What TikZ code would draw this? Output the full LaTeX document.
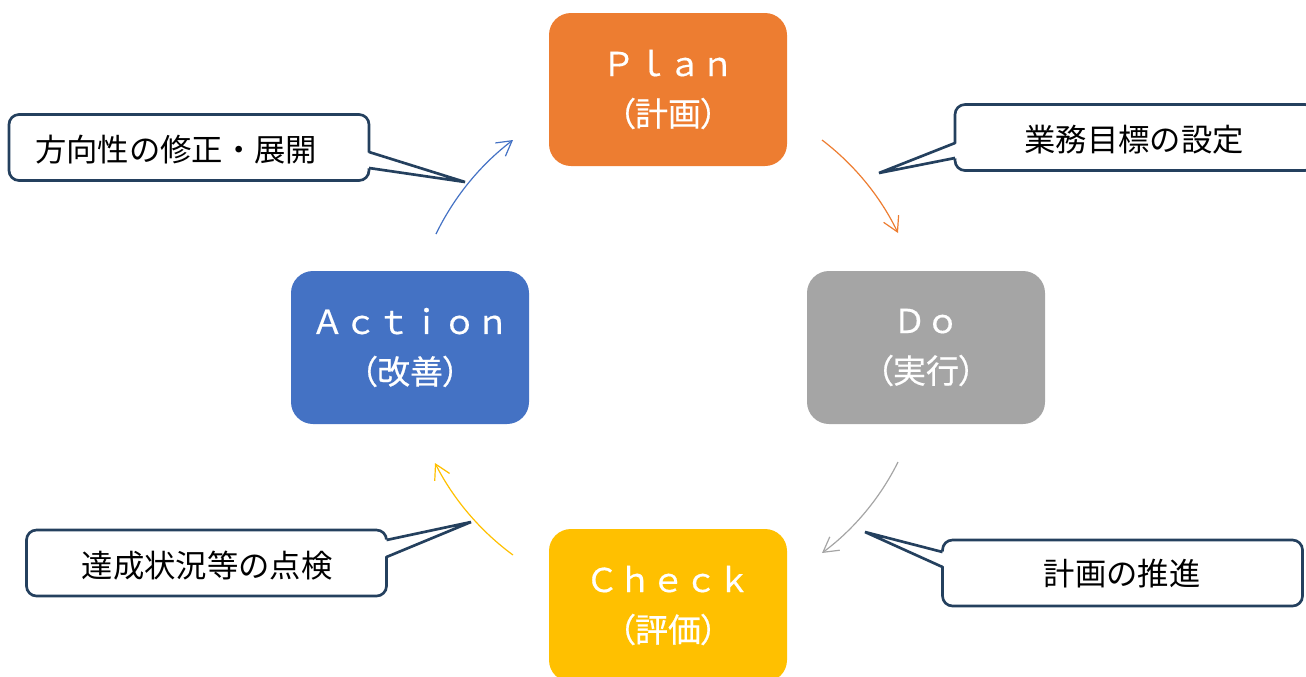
\documentclass[tikz,border=0pt]{standalone}
\usepackage{fontspec}
\newfontfamily\jp{Noto Sans CJK JP}
\newfontfamily\boxjp[FakeBold=0.5]{Noto Sans CJK JP}
\newfontfamily\boxjpp[FakeBold=0.5,RawFeature=+palt]{Noto Sans CJK JP}
\usetikzlibrary{arrows.meta,calc}

\definecolor{planc}{HTML}{ED7D31}
\definecolor{doc}{HTML}{A5A5A5}
\definecolor{checkc}{HTML}{FFC000}
\definecolor{actc}{HTML}{4472C4}
\definecolor{navy}{HTML}{24405E}

\begin{document}
\begin{tikzpicture}[x=0.75pt,y=-0.75pt,
  phase/.style={rounded corners=16.5pt, minimum width=178.5pt, minimum height=114.75pt,
    inner sep=0pt, text=white, align=center,
    font=\boxjp\fontsize{24.75}{37.5}\selectfont},
  callout/.style={draw=navy, line width=2pt, fill=white, rounded corners=7.5pt,
    minimum width=270pt, minimum height=49.5pt, inner sep=0pt},
  calltext/.style={inner sep=0pt, text=black, font=\jp\fontsize{23.5}{28}\selectfont},
  wedge/.style={draw=navy, line width=2pt, line join=miter},
  cyc/.style={line width=0.9pt, -{Straight Barb[length=11pt,width=12.5pt]}},
]
\useasboundingbox (0,0) rectangle (1306,676);

% the four PDCA phases
\node[phase, fill=planc]  (plan)   at (668,89.5)  {Ｐｌａｎ\\{\boxjpp （計画）}};
\node[phase, fill=doc]    (do)     at (926,347.5) {Ｄｏ\\{\boxjpp （実行）}};
\node[phase, fill=checkc] (check)  at (668,605.5) {Ｃｈｅｃｋ\\{\boxjpp （評価）}};
\node[phase, fill=actc]   (action) at (410,347.5) {Ａｃｔｉｏｎ\\{\boxjpp （改善）}};

% cycle arrows, bulging outwards
\coordinate (o1) at (822,140); \coordinate (o2) at (898,233);
\coordinate (g1) at (898,462); \coordinate (g2) at (822,553);
\coordinate (y1) at (513,555); \coordinate (y2) at (435,463);
\coordinate (b1) at (436,234); \coordinate (b2) at (513,140);
\draw[cyc, planc]  (o1) to[bend left=13.5, looseness=0.86] (o2);
\draw[cyc, doc]    (g1) to[bend left=13.5, looseness=0.86] (g2);
\draw[cyc, checkc] (y1) to[bend left=13.5, looseness=0.86] (y2);
\draw[cyc, actc]   (b1) to[bend left=13.5, looseness=0.86] (b2);

% callout: direction of the revision
\node[callout] (c1) at (189,147.5) {};
\coordinate (c1a) at (369,152); \coordinate (c1b) at (369,168); \coordinate (c1t) at (465,182);
\fill[white] ($(c1a)+(-3,0)$) -- (c1t) -- ($(c1b)+(-3,0)$) -- cycle;
\draw[wedge] (c1a) -- (c1t) -- (c1b);
\node[calltext] (t1) at (176,150) {方向性の修正・展開};

% callout: business goals
\node[callout] (c2) at (1135,137.5) {};
\coordinate (c2a) at (955,143); \coordinate (c2b) at (955,158); \coordinate (c2t) at (879,173);
\fill[white] ($(c2a)+(3,0)$) -- (c2t) -- ($(c2b)+(3,0)$) -- cycle;
\draw[wedge] (c2a) -- (c2t) -- (c2b);
\node[calltext] (t2) at (1134,140) {業務目標の設定};

% callout: inspection of the results
\node[callout] (c3) at (206.5,563) {};
\coordinate (c3a) at (386.5,540); \coordinate (c3b) at (386.5,557); \coordinate (c3t) at (471,522);
\fill[white] ($(c3a)+(-3,0)$) -- (c3t) -- ($(c3b)+(-3,0)$) -- cycle;
\draw[wedge] (c3a) -- (c3t) -- (c3b);
\node[calltext] (t3) at (207,566) {達成状況等の点検};

% callout: carrying out the plan
\node[callout] (c4) at (1122.5,573) {};
\coordinate (c4a) at (942.5,552); \coordinate (c4b) at (942.5,567); \coordinate (c4t) at (865,532);
\fill[white] ($(c4a)+(3,0)$) -- (c4t) -- ($(c4b)+(3,0)$) -- cycle;
\draw[wedge] (c4a) -- (c4t) -- (c4b);
\node[calltext] (t4) at (1122,574) {計画の推進};
\end{tikzpicture}
\end{document}
